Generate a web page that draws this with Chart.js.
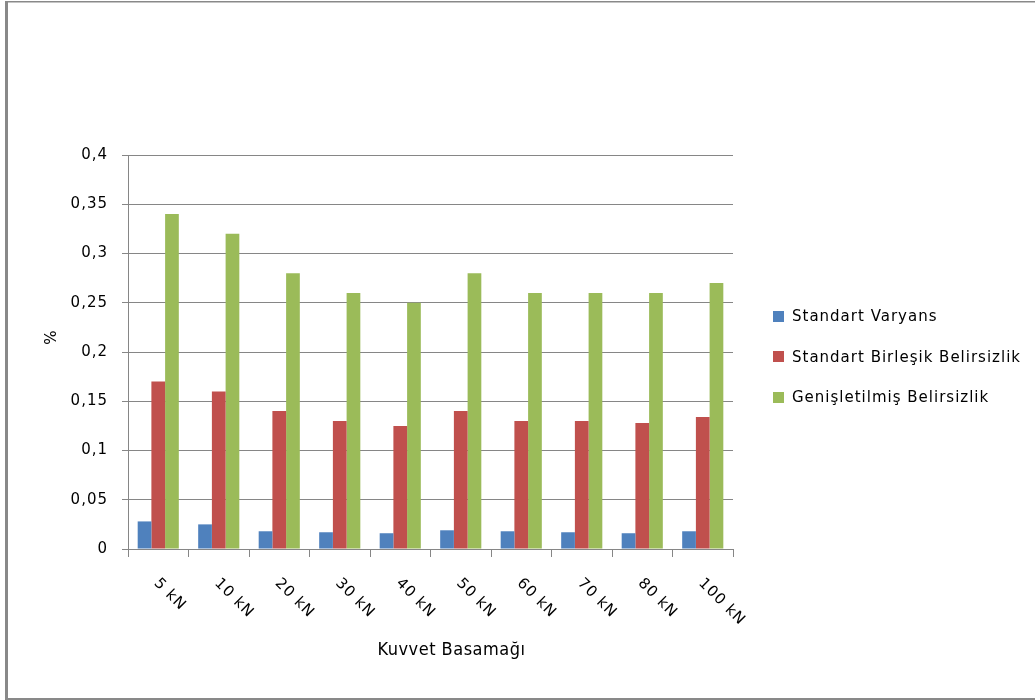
<!DOCTYPE html>
<html>
<head>
<meta charset="utf-8">
<script src="https://cdn.jsdelivr.net/npm/chart.js@4.4.1/dist/chart.umd.min.js"></script>
<style>
  body { margin: 0; background: #fff; }
  .wrap { position: relative; width: 1035px; height: 700px; }
  canvas { display: block; }
  #legend { position: absolute; left: 773px; top: 306px; margin: 0; padding: 0; list-style: none; }
  #legend li {
    display: flex; align-items: center; height: 20px; margin-bottom: 20.5px;
    font: 15px 'DejaVu Sans', sans-serif; letter-spacing: 1px; color: #000; white-space: nowrap;
  }
  #legend span.box { display: inline-block; width: 11px; height: 11px; margin-right: 8px; }
</style>
</head>
<body>
<div class="wrap">
  <canvas id="barChart" width="1035" height="700"></canvas>
  <ul id="legend"></ul>
</div>
<script>
const categories = ["5 kN", "10 kN", "20 kN", "30 kN", "40 kN", "50 kN", "60 kN", "70 kN", "80 kN", "100 kN"];
const standartVaryans = [0.028, 0.025, 0.018, 0.017, 0.016, 0.019, 0.018, 0.017, 0.016, 0.018];
const birlesikBelirsizlik = [0.17, 0.16, 0.14, 0.13, 0.125, 0.14, 0.13, 0.13, 0.128, 0.134];
const genisletilmisBelirsizlik = [0.34, 0.32, 0.28, 0.26, 0.25, 0.28, 0.26, 0.26, 0.26, 0.27];
const yTickLabels = ["0", "0,05", "0,1", "0,15", "0,2", "0,25", "0,3", "0,35", "0,4"];
const xTitle = "Kuvvet Basamağı";
const yTitle = "%";

const gray = "#868686";
const tickFont = { family: "'DejaVu Sans', sans-serif", size: 15 };

// excel-like spacing, frame round the picture, turned labels and axis titles
const framePlugin = {
  id: "frame",
  beforeUpdate(chart) { chart.ctx.letterSpacing = "1px"; },
  beforeDraw(chart) {
    const c = chart.ctx;
    c.letterSpacing = "1px";
    c.save();
    c.fillStyle = "#fff";
    c.fillRect(0, 0, chart.width, chart.height);
    c.fillStyle = "#898989";
    c.fillRect(5, 1, 3, 699);
    c.fillRect(5, 1, 1030, 1.5);
    c.fillRect(5, 698, 1030, 2);
    c.restore();
  },
  afterDraw(chart) {
    const c = chart.ctx;
    const xs = chart.scales.x;
    const ys = chart.scales.y;
    c.save();
    c.letterSpacing = "1px";
    c.font = "15px 'DejaVu Sans', sans-serif";
    c.fillStyle = "#000";
    c.textAlign = "left";
    c.textBaseline = "middle";
    // category labels 45 degrees clockwise, starting at the tick
    categories.forEach((label, i) => {
      const x = xs.getPixelForTick(i);
      c.save();
      c.translate(x - 2, xs.top + 32);
      c.rotate(Math.PI / 4);
      c.fillText(label, 0, 0);
      c.restore();
    });
    c.textAlign = "center";
    // y title
    c.save();
    c.translate(52, ys.top + 182);
    c.rotate(-Math.PI / 2);
    c.fillText(yTitle, 0, 0);
    c.restore();
    // x title, a bit right of the plot centre like the original
    c.letterSpacing = "0.5px";
    c.font = "18px 'DejaVu Sans Condensed', 'Liberation Sans Narrow', sans-serif";
    c.fillText(xTitle, (xs.left + xs.right) / 2 + 21, xs.top + 101);
    c.restore();
  }
};

// html legend, built from the datasets
const htmlLegend = {
  id: "htmlLegend",
  afterUpdate(chart) {
    const ul = document.getElementById("legend");
    ul.innerHTML = "";
    chart.options.plugins.legend.labels.generateLabels(chart).forEach((item) => {
      const li = document.createElement("li");
      const box = document.createElement("span");
      box.className = "box";
      box.style.background = item.fillStyle;
      li.appendChild(box);
      li.appendChild(document.createTextNode(item.text));
      ul.appendChild(li);
    });
  }
};

const ctx = document.getElementById("barChart").getContext("2d");
const barChart = new Chart(ctx, {
  type: "bar",
  data: {
    labels: categories,
    datasets: [
      {
        label: "Standart Varyans",
        data: standartVaryans,
        backgroundColor: "#4F81BD",
      },
      {
        label: "Standart Birleşik Belirsizlik",
        data: birlesikBelirsizlik,
        backgroundColor: "#C0504D",
      },
      {
        label: "Genişletilmiş Belirsizlik",
        data: genisletilmisBelirsizlik,
        backgroundColor: "#9BBB59",
      },
    ],
  },
  options: {
    responsive: false,
    animation: false,
    devicePixelRatio: 1,
    categoryPercentage: 0.68,
    barPercentage: 1.0,
    layout: {
      padding: { left: 43, top: 155, right: 302, bottom: 143 },
    },
    plugins: {
      tooltip: { enabled: false },
      legend: { display: false },
    },
    scales: {
      x: {
        grid: {
          offset: true,
          drawOnChartArea: false,
          tickLength: 8,
          color: gray,
        },
        border: { color: gray },
        ticks: { display: false },
      },
      y: {
        min: 0,
        max: 0.4,
        grid: { color: gray, tickLength: 6 },
        border: { color: gray },
        ticks: {
          stepSize: 0.05,
          color: "#000",
          font: tickFont,
          padding: 14,
          callback: (value, index) => yTickLabels[index],
        },
        afterFit: (scale) => { scale.width = 85; },
      },
    },
  },
  plugins: [framePlugin, htmlLegend],
});
</script>
</body>
</html>
